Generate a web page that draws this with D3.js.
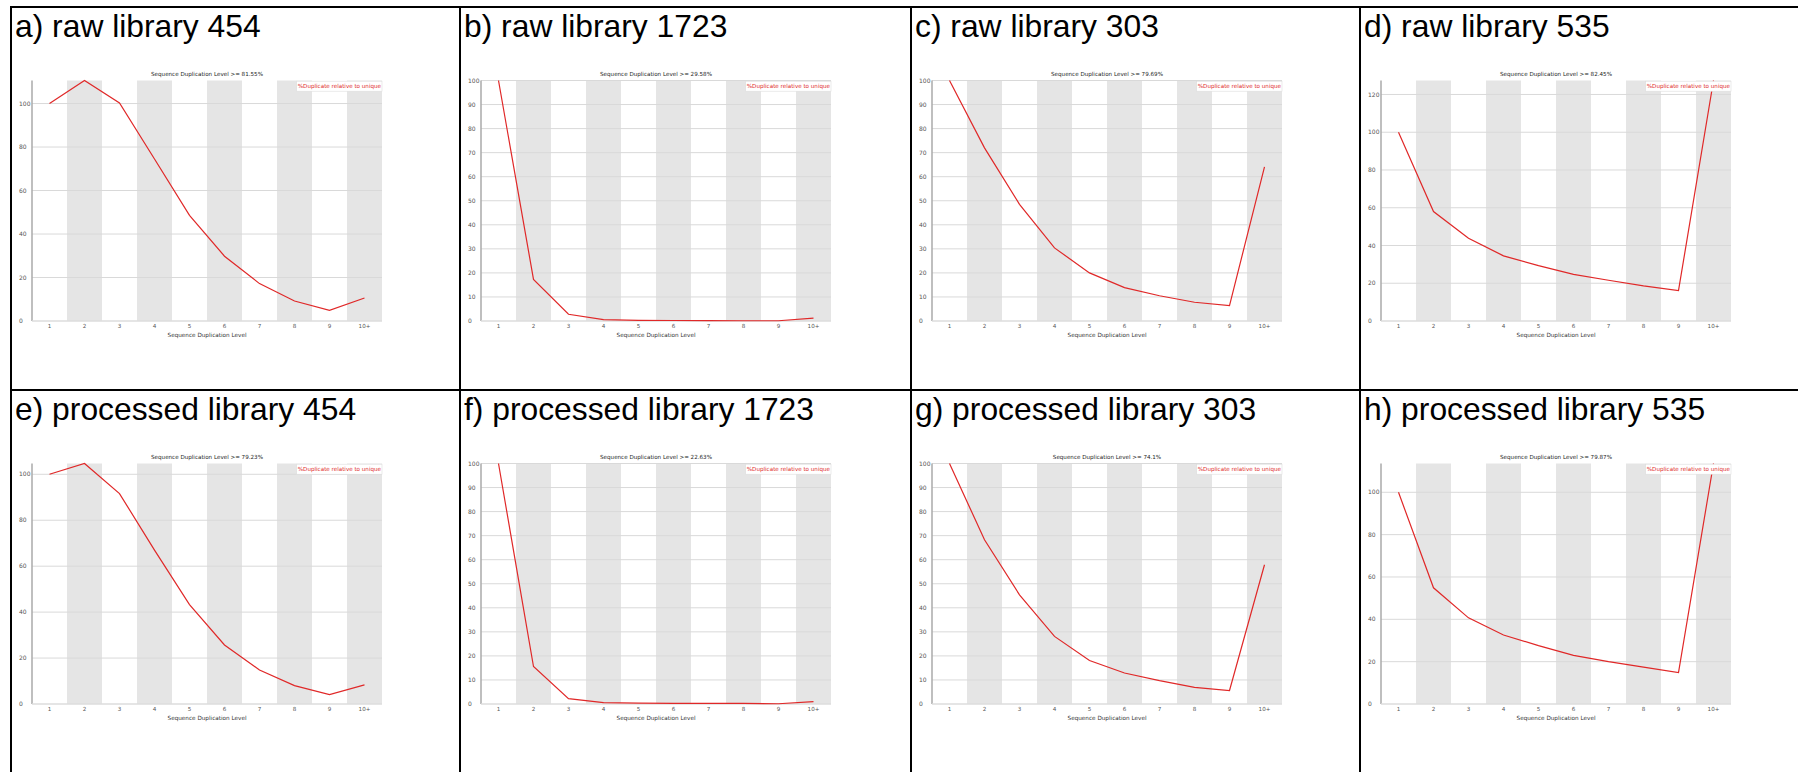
<!DOCTYPE html>
<html>
<head>
<meta charset="utf-8">
<script src="https://cdn.jsdelivr.net/npm/d3@7"></script>
<style>
    body { margin: 0; background: #fff; }
    svg { display: block; }
</style>
</head>
<body>
<div id="chart"></div>
<script>
// panel data
const panelTitles = [
    'a) raw library 454', 'b) raw library 1723', 'c) raw library 303', 'd) raw library 535',
    'e) processed library 454', 'f) processed library 1723', 'g) processed library 303', 'h) processed library 535'
];
const dupPercents = ['81.55%', '29.58%', '79.69%', '82.45%', '79.23%', '22.63%', '74.1%', '79.87%'];
const levels = ['1', '2', '3', '4', '5', '6', '7', '8', '9', '10+'];

const raw454 = [100, 110.6, 100.3, 74.5, 48.6, 29.8, 17.2, 9.2, 4.9, 10.6];
const raw1723 = [100, 17.3, 2.8, 0.6, 0.3, 0.2, 0.15, 0.1, 0.1, 1.2];
const raw303 = [100, 72, 48.5, 30.4, 20.0, 13.9, 10.5, 7.8, 6.4, 64.1];
const raw535 = [100, 58.0, 43.8, 34.5, 29.3, 24.7, 21.6, 18.6, 16.1, 127.4];
const proc454 = [100, 104.7, 91.6, 67, 43.3, 25.7, 14.8, 8.0, 4.1, 8.3];
const proc1723 = [100, 15.6, 2.2, 0.6, 0.4, 0.3, 0.3, 0.3, 0.1, 1.0];
const proc303 = [100, 68.3, 45.4, 28.1, 18.1, 12.9, 9.7, 6.9, 5.6, 57.9];
const proc535 = [100, 54.9, 40.7, 32.6, 27.6, 23.0, 20.0, 17.4, 14.8, 113.6];

const seriesList = [raw454, raw1723, raw303, raw535, proc454, proc1723, proc303, proc535];
// y tick spacing per panel
const tickSteps = [20, 10, 10, 20, 20, 10, 10, 20];

const width = 1798;
const height = 772;
const colLeft = [11, 460, 911, 1360];
const rowTop = [7, 390];

const svg = d3.select('#chart')
    .append('svg')
    .attr('width', width)
    .attr('height', height);

// one small chart per cell
seriesList.forEach((values, i) => {
    const cx = colLeft[i % 4];
    const cy = rowTop[Math.floor(i / 4)];
    drawPanel(cx, cy, panelTitles[i], dupPercents[i], values, tickSteps[i]);
});

// table borders drawn last so they sit on top
const borders = svg.append('g').attr('stroke', '#000').attr('stroke-width', 2);
colLeft.forEach((x) => {
    borders.append('line').attr('x1', x).attr('x2', x).attr('y1', 6).attr('y2', height);
});
rowTop.forEach((y) => {
    borders.append('line').attr('x1', 10).attr('x2', width).attr('y1', y).attr('y2', y);
});

function drawPanel(left, top, title, percent, values, step) {
    const g = svg.append('g');

    // big caption of the cell
    g.append('text')
        .attr('x', left + 4)
        .attr('y', top + 30)
        .attr('font-family', 'Liberation Sans, Arial, sans-serif')
        .attr('font-size', 31.8)
        .attr('fill', '#000')
        .text(title);

    const plot = { left: left + 21, top: top + 73.5, width: 350, height: 240.5 };
    plot.right = plot.left + plot.width;
    plot.bottom = plot.top + plot.height;

    const xScale = d3.scaleBand().domain(levels).range([plot.left, plot.right]).padding(0);
    const yMax = Math.max(100, d3.max(values));
    const yScale = d3.scaleLinear().domain([0, yMax]).range([plot.bottom, plot.top]);

    const font = 'DejaVu Sans, sans-serif';

    // alternating grey bands
    g.append('g')
        .selectAll('rect')
        .data(levels.filter((d, k) => k % 2 === 1))
        .join('rect')
        .attr('x', (d) => xScale(d))
        .attr('y', plot.top)
        .attr('width', xScale.bandwidth())
        .attr('height', plot.height)
        .attr('fill', '#e5e5e5');

    // horizontal gridlines + y labels
    const ticks = d3.range(0, yMax + 0.001, step);
    g.append('g')
        .selectAll('line')
        .data(ticks.filter((t) => t > 0))
        .join('line')
        .attr('x1', plot.left)
        .attr('x2', plot.right)
        .attr('y1', (d) => yScale(d))
        .attr('y2', (d) => yScale(d))
        .attr('stroke', '#d9d9d9')
        .attr('stroke-width', 1);

    g.append('g')
        .selectAll('text')
        .data(ticks)
        .join('text')
        .attr('x', left + 8)
        .attr('y', (d) => yScale(d))
        .attr('dy', '0.35em')
        .attr('font-family', font)
        .attr('font-size', 6)
        .attr('fill', '#555')
        .text((d) => d);

    // axes lines
    g.append('line')
        .attr('x1', plot.left).attr('x2', plot.left)
        .attr('y1', plot.top).attr('y2', plot.bottom)
        .attr('stroke', '#aaa').attr('stroke-width', 1.5);
    g.append('line')
        .attr('x1', plot.left).attr('x2', plot.right)
        .attr('y1', plot.bottom).attr('y2', plot.bottom)
        .attr('stroke', '#ddd').attr('stroke-width', 1.5);

    // x labels
    g.append('g')
        .selectAll('text')
        .data(levels)
        .join('text')
        .attr('x', (d) => xScale(d) + xScale.bandwidth() / 2)
        .attr('y', plot.bottom + 5)
        .attr('dy', '0.35em')
        .attr('text-anchor', 'middle')
        .attr('font-family', font)
        .attr('font-size', 5.6)
        .attr('fill', '#555')
        .text((d) => d);

    g.append('text')
        .attr('x', (plot.left + plot.right) / 2)
        .attr('y', plot.bottom + 13.7)
        .attr('dy', '0.35em')
        .attr('text-anchor', 'middle')
        .attr('font-family', font)
        .attr('font-size', 5.7)
        .attr('fill', '#333')
        .text('Sequence Duplication Level');

    g.append('text')
        .attr('x', (plot.left + plot.right) / 2)
        .attr('y', plot.top - 6.7)
        .attr('dy', '0.35em')
        .attr('text-anchor', 'middle')
        .attr('font-family', font)
        .attr('font-size', 5.6)
        .attr('fill', '#222')
        .text('Sequence Duplication Level >= ' + percent);

    // the red line
    const line = d3.line()
        .x((d, k) => xScale(levels[k]) + xScale.bandwidth() / 2)
        .y((d) => yScale(d));

    g.append('path')
        .datum(values)
        .attr('d', line)
        .attr('fill', 'none')
        .attr('stroke', '#e02828')
        .attr('stroke-width', 1.2);

    // legend box top right
    g.append('rect')
        .attr('x', plot.right - 85.3)
        .attr('y', plot.top + 0.7)
        .attr('width', 85.3)
        .attr('height', 10)
        .attr('fill', '#fff')
        .attr('stroke', '#ddd')
        .attr('stroke-width', 0.6);
    g.append('text')
        .attr('x', plot.right - 42.6)
        .attr('y', plot.top + 5.9)
        .attr('dy', '0.35em')
        .attr('text-anchor', 'middle')
        .attr('font-family', font)
        .attr('font-size', 5.6)
        .attr('fill', '#e02828')
        .text('%Duplicate relative to unique');
}
</script>
</body>
</html>
